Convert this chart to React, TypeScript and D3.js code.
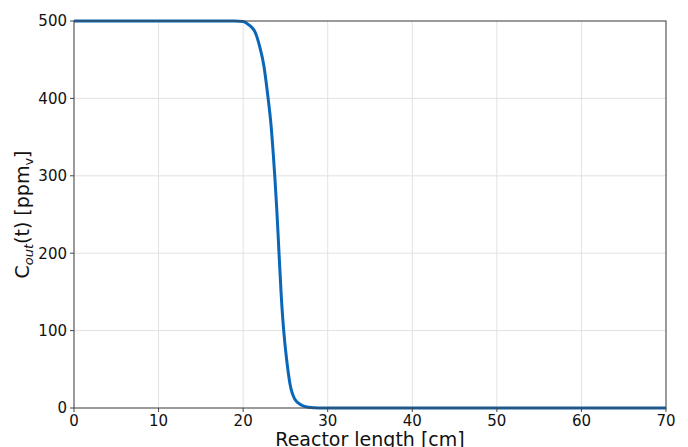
import { scaleLinear, line, curveMonotoneX } from "d3";

const WIDTH = 688;
const HEIGHT = 447;

const MARGIN = { top: 21, right: 22, bottom: 39, left: 74 };

// reactor length [cm] vs outlet concentration [ppm_v]
const lengthCm = [
  0, 10, 19, 20.0, 20.42, 20.9, 21.4, 22.0, 22.47, 22.79, 23.02, 23.26, 23.57,
  23.75, 23.97, 24.16, 24.48, 24.75, 24.95, 25.15, 25.54, 26.13, 26.92, 27.7,
  29, 40, 55, 70,
];
const concentration = [
  500, 500, 500, 499.5, 497, 493, 486, 465, 441, 415, 394, 370, 327, 298, 258,
  218, 150, 106, 82, 62, 31, 11, 3.5, 1, 0, 0, 0, 0,
];

const xTickValues = [0, 10, 20, 30, 40, 50, 60, 70];
const yTickValues = [0, 100, 200, 300, 400, 500];

const X_DOMAIN: [number, number] = [0, 70];
const Y_DOMAIN: [number, number] = [0, 500];

type Point = { x: number; y: number };

export default function App() {
  const innerWidth = WIDTH - MARGIN.left - MARGIN.right;
  const innerHeight = HEIGHT - MARGIN.top - MARGIN.bottom;

  const xScale = scaleLinear().domain(X_DOMAIN).range([0, innerWidth]);
  const yScale = scaleLinear().domain(Y_DOMAIN).range([innerHeight, 0]);

  const points: Point[] = lengthCm.map((x, i) => ({ x, y: concentration[i] }));

  const pathD =
    line<Point>()
      .x(d => xScale(d.x))
      .y(d => yScale(d.y))
      .curve(curveMonotoneX)(points) ?? "";

  const font = "DejaVu Sans, sans-serif";
  const axisColor = "#444";

  return (
    <svg
      width={WIDTH}
      height={HEIGHT}
      style={{ position: "absolute", left: 0, top: 0, background: "white" }}
      fontFamily={font}
    >
      <g transform={`translate(${MARGIN.left},${MARGIN.top})`}>
        {/* GRID */}
        {xTickValues.map(t => (
          <line
            key={"gx" + t}
            x1={xScale(t)}
            x2={xScale(t)}
            y1={0}
            y2={innerHeight}
            stroke="#e2e2e2"
            strokeWidth={1}
          />
        ))}
        {yTickValues.map(t => (
          <line
            key={"gy" + t}
            x1={0}
            x2={innerWidth}
            y1={yScale(t)}
            y2={yScale(t)}
            stroke="#e2e2e2"
            strokeWidth={1}
          />
        ))}

        {/* CURVE */}
        <path d={pathD} fill="none" stroke="#0a67b8" strokeWidth={3} strokeLinejoin="round" />

        {/* FRAME */}
        <rect x={0} y={0} width={innerWidth} height={innerHeight} fill="none" stroke={axisColor} strokeWidth={1} />

        {/* X TICKS */}
        {xTickValues.map(t => (
          <g key={"xt" + t} transform={`translate(${xScale(t)},${innerHeight})`}>
            <line y2={4} stroke={axisColor} />
            <text y={18} textAnchor="middle" fontSize={15} fill="#111">
              {t}
            </text>
          </g>
        ))}

        {/* Y TICKS */}
        {yTickValues.map(t => (
          <g key={"yt" + t} transform={`translate(0,${yScale(t)})`}>
            <line x2={-4} stroke={axisColor} />
            <text x={-7} dy="0.36em" textAnchor="end" fontSize={15} fill="#111">
              {t}
            </text>
          </g>
        ))}

        {/* LABELS */}
        <text
          x={innerWidth / 2}
          y={innerHeight + 38}
          textAnchor="middle"
          fontSize={19}
          fill="#111"
        >
          Reactor length [cm]
        </text>
        <text
          transform={`translate(${-45},${innerHeight / 2}) rotate(-90)`}
          textAnchor="middle"
          fontSize={19}
          fill="#111"
        >
          C
          <tspan fontSize={13} fontStyle="italic" dy={4}>out</tspan>
          <tspan dy={-4}>(t) [ppm</tspan>
          <tspan fontSize={13} dy={4}>v</tspan>
          <tspan dy={-4}>]</tspan>
        </text>
      </g>
    </svg>
  );
}
